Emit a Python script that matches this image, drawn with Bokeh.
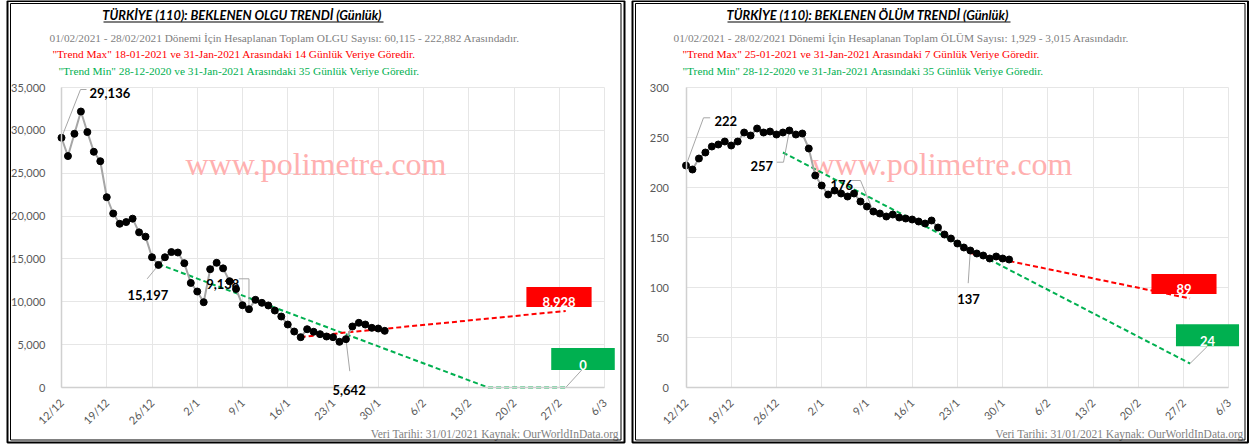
import math
from bokeh.plotting import figure
from bokeh.models import Range1d, FixedTicker, NumeralTickFormatter, Label, BoxAnnotation
from bokeh.layouts import row
from bokeh.embed import file_html
from bokeh.resources import INLINE

# ---------------- data ----------------
x_tick_labels = ["12/12", "19/12", "26/12", "2/1", "9/1", "16/1", "23/1",
                 "30/1", "6/2", "13/2", "20/2", "27/2", "6/3"]
days = list(range(51))  # 12/12/2020 .. 31/01/2021

cases = [29136, 27000, 29600, 32200, 29800, 27500, 26400, 22200, 20300, 19100,
         19300, 19700, 18100, 17600, 15200, 14300, 15197, 15800, 15750, 14500,
         12200, 11200, 9950, 13800, 14550, 13900, 12400, 11500, 9600, 9138,
         10230, 9880, 9570, 8980, 8280, 7350, 6530, 5870, 6800, 6500,
         6220, 5950, 5870, 5330, 5642, 7120, 7550, 7350, 6960, 6880, 6610]

deaths = [222, 218, 229, 235, 241, 243, 246, 242, 246, 255,
          252, 259, 255, 256, 253, 255, 257, 253, 254, 239,
          212, 202, 193, 197, 194, 191, 194, 186, 181, 176,
          174, 171, 173, 170, 169, 168, 166, 164, 167, 160,
          153, 149, 144, 140, 137, 134, 132, 129, 131, 129, 128]

case_max_x = [37, 78]
case_max_y = [5890, 8928]
case_min_x = [15, 66, 78]
case_min_y = [14400, 0, 0]

death_max_x = [44, 78]
death_max_y = [134.5, 89]
death_min_x = [15, 78]
death_min_y = [235, 24]

case_y_ticks = [0, 5000, 10000, 15000, 20000, 25000, 30000, 35000]
death_y_ticks = [0, 50, 100, 150, 200, 250, 300]

# ---------------- styling ----------------
FONT = "Lato"
SERIF = "Liberation Serif"
TICK_GRAY = "#595959"
TXT_GRAY = "#7f7f7f"
GRID = "#e6e6e6"
AXIS = "#d0d0d0"
RED = "#ff0000"
GREEN = "#00b050"
WATER = "#ffb0b0"

W, H = 629, 446
AX_TOP, AX_BOT = 87, 387
tick_days = [7 * i for i in range(len(x_tick_labels))]
XMAX = tick_days[-1]


def make_fig(fig_x0, day0_px, day84_px, ymax, yticks, fmt, standoff):
    ppd = (day84_px - day0_px) / XMAX
    upp = ymax / (AX_BOT - AX_TOP)

    def X(px):
        return (px - day0_px) / ppd

    def Y(py):
        return (AX_BOT - py) * upp

    p = figure(width=W, height=H,
               x_range=Range1d(X(fig_x0), X(fig_x0 + W)),
               y_range=Range1d(Y(H), Y(0)),
               output_backend="svg", toolbar_location=None,
               min_border_left=0, min_border_right=0,
               min_border_top=0, min_border_bottom=0,
               background_fill_color="white", border_fill_color="white",
               outline_line_color=None)

    p.xaxis.fixed_location = 0
    p.xaxis.bounds = (0, XMAX)
    p.xaxis.ticker = FixedTicker(ticks=tick_days)
    p.xaxis.major_label_overrides = {d: lab for d, lab in zip(tick_days, x_tick_labels)}
    p.xaxis.major_label_orientation = math.pi / 4
    p.xaxis.axis_line_color = AXIS
    p.xaxis.axis_line_width = 1.5
    p.xaxis.major_tick_line_color = None
    p.xaxis.minor_tick_line_color = None
    p.xaxis.major_label_standoff = 7
    p.xaxis.major_label_text_font = FONT
    p.xaxis.major_label_text_font_size = "11px"
    p.xaxis.major_label_text_color = TICK_GRAY

    p.yaxis.fixed_location = 0
    p.yaxis.bounds = (0, ymax)
    p.yaxis.ticker = FixedTicker(ticks=yticks)
    if fmt:
        p.yaxis.formatter = NumeralTickFormatter(format=fmt)
    p.yaxis.axis_line_color = AXIS
    p.yaxis.axis_line_width = 1.5
    p.yaxis.major_tick_line_color = None
    p.yaxis.minor_tick_line_color = None
    p.yaxis.major_label_standoff = standoff
    p.yaxis.major_label_text_font = FONT
    p.yaxis.major_label_text_font_size = "11px"
    p.yaxis.major_label_text_color = TICK_GRAY

    p.xgrid.grid_line_color = GRID
    p.ygrid.grid_line_color = GRID
    p.xgrid.cross_bounds = (0, ymax)
    p.ygrid.cross_bounds = (0, XMAX)
    return p, X, Y


def text(p, X, Y, px, py, s, size, color, font=FONT, style="normal",
         align="left", baseline="middle", level="annotation"):
    p.add_layout(Label(x=X(px), y=Y(py), text=s, text_font=font,
                       text_font_size=size, text_color=color, text_font_style=style,
                       text_align=align, text_baseline=baseline, level=level))


def box_label(p, X, Y, ty, s, color, left, right, top, bot, tw):
    ht = 11
    pt = max(0, int(round(ty - ht / 2 - top)))
    pb = max(0, int(round(bot - top - ht - pt)))
    ph = max(0, int(round((right - left - tw) / 2)))
    cy = top + (pt + ht + pb) / 2
    p.add_layout(Label(x=X((left + right) / 2), y=Y(cy), text=s, text_font=FONT,
                       text_font_size="13px", text_font_style="bold",
                       text_color="white", text_align="center", text_baseline="middle",
                       background_fill_color=color, background_fill_alpha=1,
                       padding=dict(left=ph, right=ph, top=pt, bottom=pb)))


def rect(p, X, Y, l, r, t, b, color="black", lw=1):
    p.add_layout(BoxAnnotation(left=X(l), right=X(r), top=Y(t), bottom=Y(b),
                               fill_alpha=0, line_color=color, line_alpha=1,
                               line_width=lw))


def fill_rect(p, X, Y, l, r, t, b, color="black"):
    p.add_layout(BoxAnnotation(left=X(l), right=X(r), top=Y(t), bottom=Y(b),
                               fill_color=color, fill_alpha=1, line_color=None))


def leader(p, pts):
    p.line([a for a, b in pts], [b for a, b in pts], line_color="#a6a6a6", line_width=1)


# ---------------- left panel: cases ----------------
p1, X1, Y1 = make_fig(0, 61, 604, 35000, case_y_ticks, "0,0", 10)

text(p1, X1, Y1, 185, 163, "www.polimetre.com", "32px", WATER, font=SERIF,
     baseline="alphabetic", level="underlay")

p1.line(case_min_x, case_min_y, line_color=GREEN, line_width=2, line_dash="5 3")
p1.line(case_max_x, case_max_y, line_color=RED, line_width=2, line_dash="5 3")

leader(p1, [(days[0], cases[0]), (X1(80), Y1(89)), (X1(86), Y1(89))])
leader(p1, [(X1(146.7), Y1(278.3)), (days[16], cases[16])])
leader(p1, [(X1(238.3), Y1(278.3)), (days[29], Y1(278.3)), (days[29], cases[29])])
leader(p1, [(X1(349.3), Y1(370.7)), (days[44], cases[44])])
leader(p1, [(case_min_x[-1], case_min_y[-1]), (X1(581.7), Y1(369))])

p1.line(days, cases, line_color="#a6a6a6", line_width=2)
p1.scatter(days, cases, size=7, color="black")

text(p1, X1, Y1, 243, 14.8, "TÜRKİYE (110):  BEKLENEN OLGU TRENDİ (Günlük)", "12.8px",
     "black", style="bold italic", align="center")
fill_rect(p1, X1, Y1, 103, 383, 21.0, 22.0)
text(p1, X1, Y1, 49, 37, "01/02/2021 - 28/02/2021 Dönemi İçin Hesaplanan Toplam OLGU Sayısı: 60,115 - 222,882 Arasındadır.",
     "11.3px", TXT_GRAY, font=SERIF)
text(p1, X1, Y1, 52, 53.5, "\"Trend Max\" 18-01-2021 ve 31-Jan-2021 Arasındaki 14 Günlük Veriye Göredir.",
     "11.3px", RED, font=SERIF)
text(p1, X1, Y1, 58, 70, "\"Trend Min\" 28-12-2020 ve 31-Jan-2021 Arasındaki 35 Günlük Veriye Göredir.",
     "11.3px", GREEN, font=SERIF)
text(p1, X1, Y1, 618.3, 433.3, "Veri Tarihi: 31/01/2021 Kaynak: OurWorldInData.org",
     "11.5px", TXT_GRAY, font=SERIF, align="right")

text(p1, X1, Y1, 89, 92.8, f"{cases[0]:,}", "13px", "black", style="bold")
text(p1, X1, Y1, 127, 294.7, f"{cases[16]:,}", "13px", "black", style="bold")
text(p1, X1, Y1, 205.7, 283.3, f"{cases[29]:,}", "13px", "black", style="bold")
text(p1, X1, Y1, 332, 389.3, f"{cases[44]:,}", "13px", "black", style="bold")

box_label(p1, X1, Y1, 301.7, f"{case_max_y[-1]:,}", RED, 526, 591, 286, 306.7, 33.5)
box_label(p1, X1, Y1, 365, f"{case_min_y[-1]:,}", GREEN, 551, 614, 347, 369, 8)

rect(p1, X1, Y1, 7, 624, 0.5, 442, lw=2)
rect(p1, X1, Y1, 10, 620.5, 3, 439.5, lw=1)

# ---------------- right panel: deaths ----------------
p2, X2, Y2 = make_fig(629, 685.5, 1228.3, 300, death_y_ticks, None, 11)

text(p2, X2, Y2, 811, 163, "www.polimetre.com", "32px", WATER, font=SERIF,
     baseline="alphabetic", level="underlay")

p2.line(death_min_x, death_min_y, line_color=GREEN, line_width=2, line_dash="5 3")
p2.line(death_max_x, death_max_y, line_color=RED, line_width=2, line_dash="5 3")

leader(p2, [(days[0], deaths[0]), (X2(703), Y2(117.3)), (X2(709.7), Y2(117.3))])
leader(p2, [(X2(776.3), Y2(161.7)), (X2(783), Y2(161.7)), (days[16], deaths[16])])
leader(p2, [(X2(851), Y2(180)), (X2(860), Y2(180)), (days[29], deaths[29])])
leader(p2, [(X2(967.7), Y2(282.7)), (days[44], deaths[44])])
leader(p2, [(death_min_x[-1], death_min_y[-1]), (X2(1206.7), Y2(346))])

p2.line(days, deaths, line_color="#a6a6a6", line_width=2)
p2.scatter(days, deaths, size=7, color="black")

text(p2, X2, Y2, 868.5, 14.8, "TÜRKİYE (110):  BEKLENEN ÖLÜM TRENDİ (Günlük)", "12.8px",
     "black", style="bold italic", align="center")
fill_rect(p2, X2, Y2, 727, 1010, 21.0, 22.0)
text(p2, X2, Y2, 673, 37, "01/02/2021 - 28/02/2021 Dönemi İçin Hesaplanan Toplam ÖLÜM Sayısı: 1,929 - 3,015 Arasındadır.",
     "11.3px", TXT_GRAY, font=SERIF)
text(p2, X2, Y2, 682, 53.5, "\"Trend Max\" 25-01-2021 ve 31-Jan-2021 Arasındaki 7 Günlük Veriye Göredir.",
     "11.3px", RED, font=SERIF)
text(p2, X2, Y2, 682, 70, "\"Trend Min\" 28-12-2020 ve 31-Jan-2021 Arasındaki 35 Günlük Veriye Göredir.",
     "11.3px", GREEN, font=SERIF)
text(p2, X2, Y2, 1243, 433.3, "Veri Tarihi: 31/01/2021 Kaynak: OurWorldInData.org",
     "11.5px", TXT_GRAY, font=SERIF, align="right")

text(p2, X2, Y2, 714, 120.8, f"{deaths[0]}", "13px", "black", style="bold")
text(p2, X2, Y2, 750, 165.8, f"{deaths[16]}", "13px", "black", style="bold")
text(p2, X2, Y2, 830, 184.3, f"{deaths[29]}", "13px", "black", style="bold")
text(p2, X2, Y2, 956.7, 298.3, f"{deaths[44]}", "13px", "black", style="bold")

box_label(p2, X2, Y2, 288.3, f"{death_max_y[-1]:g}", RED, 1151, 1216, 273, 294, 15)
box_label(p2, X2, Y2, 340.7, f"{death_min_y[-1]:g}", GREEN, 1175, 1239, 323.3, 346, 15)

rect(p2, X2, Y2, 632, 1247.5, 0.5, 442, lw=2)
rect(p2, X2, Y2, 635, 1244.5, 3, 439.5, lw=1)

layout = row(p1, p2)
open("out.html", "w").write(file_html(layout, INLINE))
